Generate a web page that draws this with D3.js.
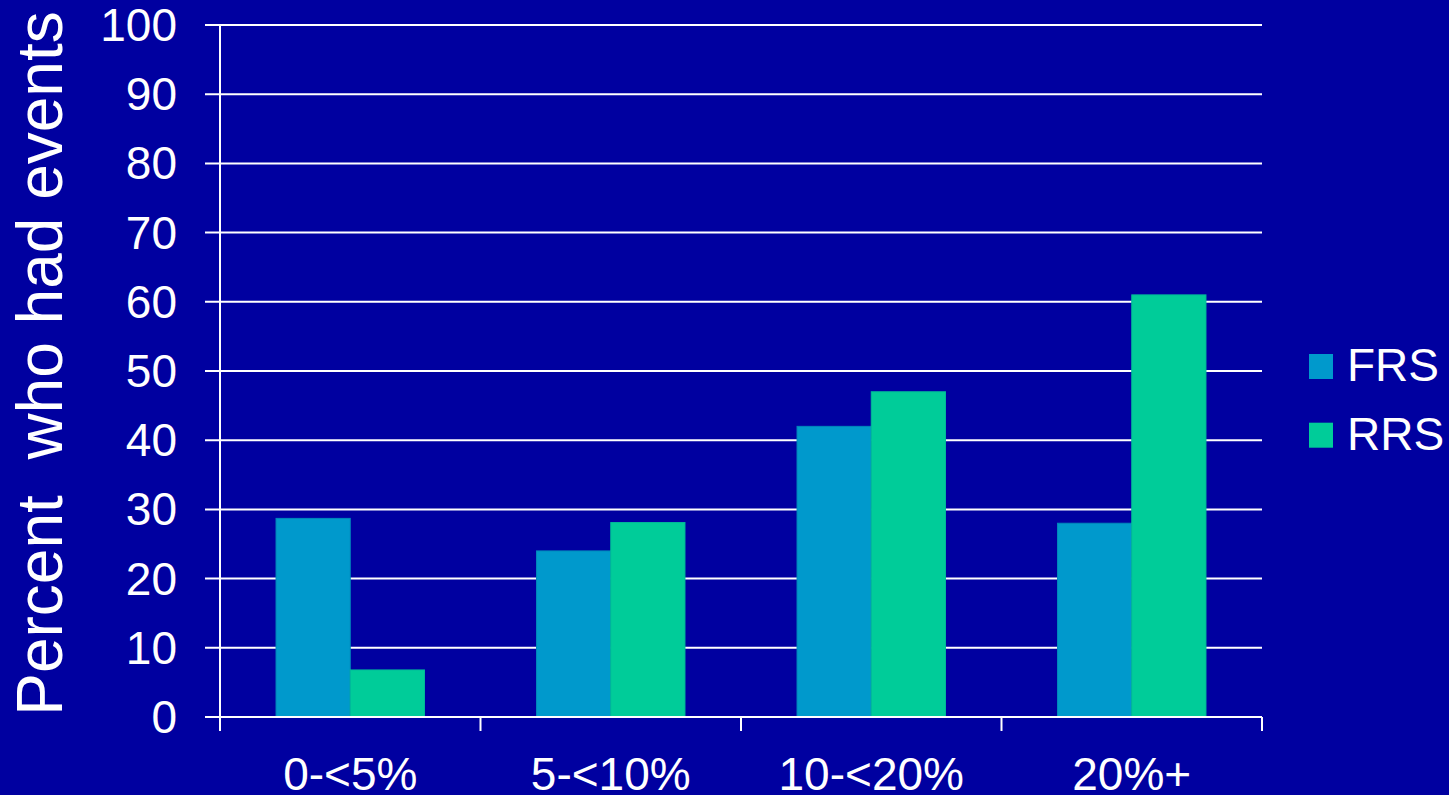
<!DOCTYPE html>
<html><head><meta charset="utf-8">
<script src="https://cdn.jsdelivr.net/npm/d3@7"></script>
<style>html,body{margin:0;padding:0;background:#0000A0;}svg{display:block;}</style>
</head><body>
<svg id="chart" width="1449" height="795"></svg>
<script>
const categories = ["0-<5%", "5-<10%", "10-<20%", "20%+"];
const seriesNames = ["FRS", "RRS"];
const frsValues = [28.7, 24.0, 42.0, 28.0];
const rrsValues = [6.8, 28.1, 47.0, 61.0];
const yTicks = [0, 10, 20, 30, 40, 50, 60, 70, 80, 90, 100];
const yTitle = "Percent  who had events";
const colors = ["#0099CC", "#00CC99"];

const svg = d3.select("#chart");
svg.append("rect").attr("width", 1449).attr("height", 795).attr("fill", "#0000A0");
const plotLeft = 220, plotRight = 1262, plotTop = 25, plotBottom = 717;
const font = "Arial, 'Liberation Sans', sans-serif";

const x = d3.scaleBand().domain(categories).range([plotLeft, plotRight]).paddingInner(0).paddingOuter(0);
const xs = d3.scaleBand().domain(seriesNames).range([0, x.bandwidth()]).paddingInner(0).paddingOuter(0.755);
const y = d3.scaleLinear().domain([0, 100]).range([plotBottom, plotTop]);

// gridlines
svg.append("g").selectAll("line").data(yTicks).join("line")
  .attr("x1", plotLeft - 15).attr("x2", plotRight)
  .attr("y1", d => y(d)).attr("y2", d => y(d))
  .attr("stroke", "#ffffff").attr("stroke-width", 2);

// y axis line
svg.append("line").attr("x1", plotLeft).attr("x2", plotLeft).attr("y1", plotTop).attr("y2", plotBottom + 14)
  .attr("stroke", "#ffffff").attr("stroke-width", 2);

// x category ticks
svg.append("g").selectAll("line").data(categories).join("line")
  .attr("x1", d => x(d) + x.bandwidth()).attr("x2", d => x(d) + x.bandwidth())
  .attr("y1", plotBottom).attr("y2", plotBottom + 14)
  .attr("stroke", "#ffffff").attr("stroke-width", 2);

// bars
const data = categories.map((c, i) => ({cat: c, vals: [frsValues[i], rrsValues[i]]}));
const groups = svg.append("g").selectAll("g").data(data).join("g")
  .attr("transform", d => `translate(${x(d.cat)},0)`);
groups.selectAll("rect").data(d => d.vals.map((v, j) => ({name: seriesNames[j], v, j}))).join("rect")
  .attr("x", d => xs(d.name)).attr("width", xs.bandwidth())
  .attr("y", d => y(d.v)).attr("height", d => y(0) - y(d.v))
  .attr("fill", d => colors[d.j])
  .attr("stroke", d => d.j === 0 ? "#0088BB" : "#00BB99").attr("stroke-width", 1);

// redraw x-axis baseline on top
svg.append("line").attr("x1", plotLeft - 15).attr("x2", plotRight).attr("y1", plotBottom).attr("y2", plotBottom)
  .attr("stroke", "#ffffff").attr("stroke-width", 2);

// y tick labels
svg.append("g").selectAll("text").data(yTicks).join("text")
  .attr("x", 177).attr("y", d => y(d) + 16)
  .attr("text-anchor", "end").attr("fill", "#ffffff")
  .style("font-family", font).style("font-size", "46px")
  .text(d => d);

// x labels
svg.append("g").selectAll("text").data(categories).join("text")
  .attr("x", d => x(d) + x.bandwidth() / 2).attr("y", 790)
  .attr("text-anchor", "middle").attr("fill", "#ffffff")
  .style("font-family", font).style("font-size", "46px")
  .text(d => d);

// y title
svg.append("text")
  .attr("transform", `translate(62,${(plotBottom + 10) / 2}) rotate(-90)`)
  .attr("text-anchor", "middle").attr("fill", "#ffffff")
  .style("font-family", font).style("font-size", "64px").style("white-space", "pre")
  .text(yTitle);

// legend
const legend = svg.append("g").selectAll("g").data(seriesNames).join("g")
  .attr("transform", (d, i) => `translate(1309,${354 + i * 68.7})`);
legend.append("rect").attr("width", 24).attr("height", 25).attr("fill", (d, i) => colors[i]);
legend.append("text").attr("x", 38).attr("y", 27).attr("fill", "#ffffff")
  .style("font-family", font).style("font-size", "46px").text(d => d);
</script>
</body></html>
